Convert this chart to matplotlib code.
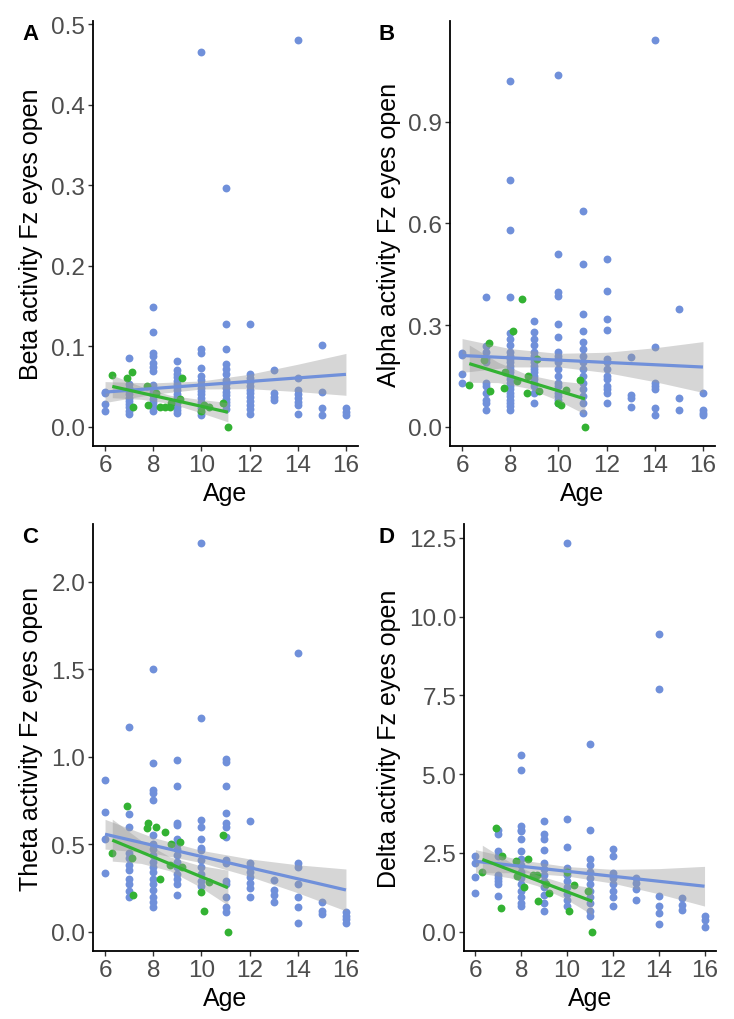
import numpy as np
import matplotlib.pyplot as plt

plt.rcParams['font.family'] = ['Liberation Sans', 'DejaVu Sans']

#-------------------------------------------------------------------------------
# Data

ages = [6, 7, 8, 9, 10, 11, 12, 13, 14, 15, 16]
green_age = [6.3, 6.9, 7.1, 7.15, 7.75, 7.8, 8.1, 8.3, 8.5, 8.7, 8.75, 9.1, 9.2,
             10.0, 10.1, 10.3, 10.9, 11.1]

# Beta
beta_blue = [
    [0.043, 0.042, 0.028, 0.020],
    [0.085, 0.053, 0.048, 0.044, 0.040, 0.036, 0.032, 0.028, 0.024, 0.020, 0.016],
    [0.149, 0.118, 0.092, 0.088, 0.079, 0.074, 0.069, 0.052, 0.047, 0.043, 0.039,
     0.035, 0.031, 0.027, 0.023, 0.019],
    [0.082, 0.071, 0.066, 0.062, 0.057, 0.053, 0.049, 0.045, 0.041, 0.037, 0.033,
     0.029, 0.025, 0.021, 0.017],
    [0.465, 0.097, 0.091, 0.073, 0.063, 0.058, 0.053, 0.048, 0.044, 0.040, 0.036,
     0.031, 0.027, 0.023, 0.018, 0.014],
    [0.297, 0.128, 0.096, 0.078, 0.072, 0.065, 0.058, 0.053, 0.048, 0.043, 0.039,
     0.035, 0.031, 0.027, 0.022],
    [0.127, 0.065, 0.061, 0.056, 0.051, 0.046, 0.042, 0.037, 0.032, 0.027, 0.022, 0.016],
    [0.070, 0.042, 0.037, 0.033],
    [0.480, 0.061, 0.046, 0.041, 0.036, 0.031, 0.027, 0.016],
    [0.102, 0.043, 0.023, 0.015],
    [0.023, 0.018, 0.014],
]
beta_green = [0.064, 0.061, 0.068, 0.025, 0.051, 0.027, 0.042, 0.024, 0.024, 0.024,
              0.030, 0.034, 0.061, 0.020, 0.027, 0.024, 0.030, 0.0]

# Alpha
alpha_blue = [
    [0.218, 0.212, 0.155, 0.129],
    [0.384, 0.238, 0.22, 0.20, 0.19, 0.13, 0.12, 0.10, 0.08, 0.07, 0.05],
    [1.019, 0.727, 0.579, 0.384, 0.277, 0.26, 0.24, 0.22, 0.21, 0.20, 0.19, 0.18,
     0.17, 0.16, 0.15, 0.14, 0.13, 0.12, 0.11, 0.10, 0.09, 0.08, 0.07, 0.06, 0.05],
    [0.312, 0.28, 0.26, 0.24, 0.22, 0.21, 0.20, 0.19, 0.18, 0.17, 0.16, 0.15, 0.14,
     0.13, 0.12, 0.10, 0.07],
    [1.039, 0.509, 0.396, 0.386, 0.302, 0.264, 0.22, 0.21, 0.20, 0.19, 0.17, 0.15,
     0.13, 0.12, 0.10, 0.09, 0.08, 0.07],
    [0.637, 0.48, 0.332, 0.282, 0.25, 0.23, 0.21, 0.19, 0.17, 0.15, 0.13, 0.11,
     0.09, 0.07, 0.04],
    [0.495, 0.40, 0.319, 0.284, 0.20, 0.19, 0.17, 0.15, 0.14, 0.12, 0.11, 0.10, 0.07],
    [0.206, 0.094, 0.084, 0.057],
    [1.140, 0.235, 0.13, 0.12, 0.11, 0.054, 0.033],
    [0.347, 0.084, 0.05],
    [0.10, 0.05, 0.04, 0.033],
]
alpha_green = [0.124, 0.198, 0.248, 0.104, 0.114, 0.16, 0.282, 0.134, 0.376, 0.099,
               0.15, 0.20, 0.104, 0.07, 0.064, 0.109, 0.139, 0.0]

# Theta
theta_blue = [
    [0.865, 0.684, 0.532, 0.337],
    [1.17, 0.675, 0.60, 0.45, 0.42, 0.38, 0.35, 0.30, 0.27, 0.23, 0.20],
    [1.50, 0.965, 0.81, 0.79, 0.75, 0.55, 0.50, 0.47, 0.44, 0.40, 0.37, 0.34, 0.30,
     0.27, 0.24, 0.20, 0.17, 0.14],
    [0.98, 0.83, 0.62, 0.61, 0.53, 0.50, 0.47, 0.44, 0.40, 0.37, 0.33, 0.30, 0.27, 0.21],
    [2.22, 1.22, 0.64, 0.60, 0.53, 0.48, 0.466, 0.41, 0.37, 0.33, 0.29, 0.26],
    [0.985, 0.97, 0.83, 0.68, 0.62, 0.60, 0.54, 0.41, 0.39, 0.29, 0.27, 0.20, 0.14, 0.11],
    [0.63, 0.39, 0.37, 0.34, 0.31, 0.28, 0.25, 0.20],
    [0.295, 0.24, 0.21, 0.17],
    [1.596, 0.39, 0.37, 0.27, 0.20, 0.14, 0.048],
    [0.17, 0.12, 0.10],
    [0.11, 0.09, 0.07, 0.05],
]
theta_green = [0.447, 0.72, 0.42, 0.21, 0.59, 0.62, 0.60, 0.30, 0.57, 0.38, 0.50,
               0.51, 0.37, 0.228, 0.118, 0.285, 0.55, 0.0]

# Delta
delta_blue = [
    [2.39, 2.18, 1.73, 1.22],
    [3.24, 3.09, 2.55, 2.39, 1.81, 1.70, 1.60, 1.50, 1.12],
    [5.59, 5.13, 3.35, 3.24, 3.19, 2.93, 2.55, 2.29, 2.10, 1.90, 1.70, 1.50, 1.30,
     1.10, 0.90, 0.80],
    [3.51, 3.09, 2.93, 2.60, 2.18, 2.00, 1.80, 1.60, 1.40, 1.17, 0.90, 0.64],
    [12.32, 3.56, 2.69, 2.02, 1.80, 1.60, 1.40, 1.20, 1.00, 0.80],
    [5.94, 3.24, 2.29, 2.10, 1.90, 1.70, 1.50, 1.30, 1.10, 0.90, 0.65, 0.50],
    [2.63, 2.39, 1.86, 1.70, 1.50, 1.30, 1.10, 0.80],
    [1.70, 1.54, 1.35, 1.01],
    [9.45, 7.71, 1.12, 0.80, 0.60, 0.24],
    [1.06, 0.85, 0.69],
    [0.48, 0.37, 0.16],
]
delta_green = [1.88, 3.28, 0.74, 2.40, 2.23, 1.76, 1.40, 2.29, 1.81, 1.81, 0.96,
               1.50, 1.22, 1.90, 0.66, 1.49, 1.28, 0.0]

# Fitted lines (value at the first and last age) and CI half widths
blue_fit_age = [6, 16]
green_fit_age = [6.3, 11.1]
blue_ci_age = [6, 8, 10, 12, 14, 16]
green_ci_age = [6.3, 7.5, 8.7, 9.9, 11.1]

beta_blue_fit = [0.043, 0.065]
beta_green_fit = [0.050, 0.018]
beta_blue_ci = [0.013, 0.007, 0.005, 0.009, 0.017, 0.026]
beta_green_ci = [0.014, 0.008, 0.005, 0.008, 0.012]

alpha_blue_fit = [0.210, 0.176]
alpha_green_fit = [0.186, 0.082]
alpha_blue_ci = [0.050, 0.027, 0.020, 0.030, 0.050, 0.075]
alpha_green_ci = [0.055, 0.030, 0.020, 0.028, 0.045]

theta_blue_fit = [0.557, 0.238]
theta_green_fit = [0.523, 0.251]
theta_blue_ci = [0.085, 0.045, 0.035, 0.050, 0.080, 0.120]
theta_green_ci = [0.120, 0.065, 0.040, 0.060, 0.100]

delta_blue_fit = [2.23, 1.44]
delta_green_fit = [2.29, 0.96]
delta_blue_ci = [0.37, 0.20, 0.15, 0.22, 0.40, 0.63]
delta_green_ci = [0.45, 0.25, 0.17, 0.24, 0.43]

#-------------------------------------------------------------------------------
# Plot

BLUE = '#7090DA'
GREEN = '#33B233'

fig = plt.figure(figsize=(7.34, 10.2), dpi=100)

W, H = 734., 1020.
panels = [
    # letter, ylabel, blue, green, fits, ticks, axes box (left, right, top, bottom) px,
    # ylabel x offset, letter x px
    ('A', 'Beta activity Fz eyes open', beta_blue, beta_green,
     beta_blue_fit, beta_green_fit, beta_blue_ci, beta_green_ci,
     [0.0, 0.1, 0.2, 0.3, 0.4, 0.5], (93, 358, 22, 447), -0.19, 22),
    ('B', 'Alpha activity Fz eyes open', alpha_blue, alpha_green,
     alpha_blue_fit, alpha_green_fit, alpha_blue_ci, alpha_green_ci,
     [0.0, 0.3, 0.6, 0.9], (450, 715, 22, 447), -0.185, 379),
    ('C', 'Theta activity Fz eyes open', theta_blue, theta_green,
     theta_blue_fit, theta_green_fit, theta_blue_ci, theta_green_ci,
     [0.0, 0.5, 1.0, 1.5, 2.0], (93, 358, 525, 952), -0.19, 22),
    ('D', 'Delta activity Fz eyes open', delta_blue, delta_green,
     delta_blue_fit, delta_green_fit, delta_blue_ci, delta_green_ci,
     [0.0, 2.5, 5.0, 7.5, 10.0, 12.5], (464, 716, 525, 952), -0.25, 379),
]

for (letter, ylab, blue, green, bfit, gfit, bci, gci, yticks, box, ylx, lx) in panels:
    l, r, t, b = box
    ax = fig.add_axes([l / W, 1 - b / H, (r - l) / W, (b - t) / H])

    bx = np.concatenate([[a] * len(v) for a, v in zip(ages, blue)])
    by = np.concatenate(blue)
    ax.scatter(bx, by, s=32, color=BLUE, linewidths=0, zorder=2)
    ax.scatter(green_age, green, s=32, color=GREEN, linewidths=0, zorder=2)

    # confidence bands then regression lines
    for fx, fy, cx, ch, col in [(blue_fit_age, bfit, blue_ci_age, bci, BLUE),
                                (green_fit_age, gfit, green_ci_age, gci, GREEN)]:
        mid = np.interp(cx, fx, fy)
        ax.fill_between(cx, mid - np.array(ch), mid + np.array(ch),
                        color='#999999', alpha=0.4, linewidth=0, zorder=3)
        ax.plot(fx, fy, color=col, lw=2.3, zorder=4, solid_capstyle='butt')

    allv = np.concatenate([by, green])
    pad = 0.05 * (allv.max() - allv.min())
    ax.set_ylim(allv.min() - pad, allv.max() + pad)
    ax.set_xlim(5.5, 16.5)
    ax.set_xticks([6, 8, 10, 12, 14, 16])
    ax.set_yticks(yticks)
    ax.set_yticklabels(['%.1f' % v for v in yticks])

    for s in ['top', 'right']:
        ax.spines[s].set_visible(False)
    for s in ['left', 'bottom']:
        ax.spines[s].set_linewidth(1.3)
        ax.spines[s].set_color('black')
    ax.tick_params(direction='out', length=3.5, width=1.0, color='#333333',
                   labelcolor='#4D4D4D', labelsize=17.5, pad=2)

    ax.set_xlabel('Age', fontsize=18, labelpad=4)
    ax.set_ylabel(ylab, fontsize=18)
    ax.yaxis.set_label_coords(ylx, 0.5)

    fig.text(lx / W, 1 - (t + 2) / H, letter, ha='left', va='top',
             fontsize=16, fontweight='bold')

fig.savefig('out.png', dpi=100)
